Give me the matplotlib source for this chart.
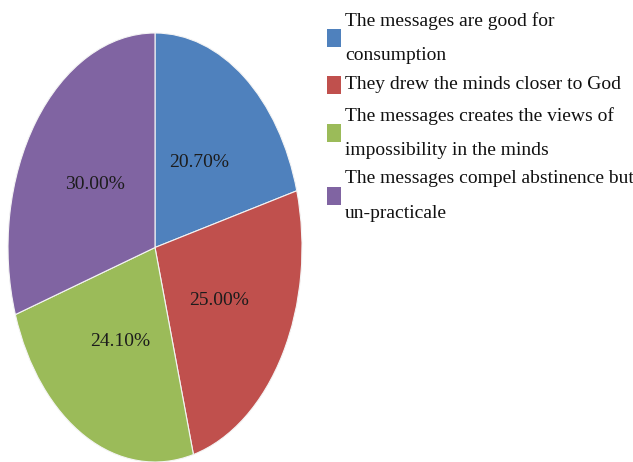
import matplotlib
matplotlib.use("Agg")
import matplotlib.pyplot as plt
from matplotlib.patches import Rectangle

categories = [
    "The messages are good for\nconsumption",
    "They drew the minds closer to God",
    "The messages creates the views of\nimpossibility in the minds",
    "The messages compel abstinence but\nun-practicale",
]
values = [20.7, 25.0, 24.1, 30.0]
colors = ["#4F81BD", "#C0504D", "#9BBB59", "#8064A2"]

W, H = 633, 462
fig = plt.figure(figsize=(W / 100, H / 100), dpi=100)
fig.patch.set_facecolor("white")

ax = fig.add_axes([8 / W, 0.0, 294 / W, 429 / H])
total = sum(values)
wedges, texts, autotexts = ax.pie(
    values,
    colors=colors,
    startangle=90,
    counterclock=False,
    radius=1.0,
    autopct=lambda p: f"{p * total / 100:.2f}%",
    pctdistance=0.5,
    wedgeprops=dict(edgecolor="#f4f4f4", linewidth=0.8),
    textprops=dict(family="Liberation Serif", fontsize=14, color="#1c1c1c"),
)
ax.set_aspect("auto")
ax.set_xlim(-1.0, 1.0)
ax.set_ylim(-1.0, 1.0)
ax.axis("off")

# Legend (manual layout)
centers = [38, 85, 133, 196]
for lab, col, yc in zip(categories, colors, centers):
    fig.patches.append(Rectangle((327 / W, 1 - (yc + 9) / H), 14 / W, 18 / H,
                                 transform=fig.transFigure, facecolor=col,
                                 edgecolor="none"))
    fig.text(345 / W, 1 - yc / H, lab, ha="left", va="center",
             family="Liberation Serif", fontsize=14, color="#111111",
             linespacing=2.35)

fig.savefig("out.png", dpi=100)
